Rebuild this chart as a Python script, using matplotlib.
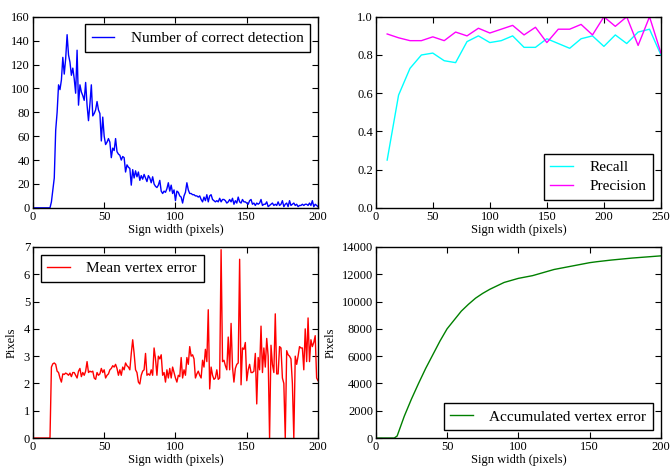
import numpy as np
import matplotlib
matplotlib.use('Agg')
import matplotlib.pyplot as plt

plt.rcParams['font.family'] = 'serif'
plt.rcParams['font.serif'] = ['Liberation Serif', 'DejaVu Serif']
plt.rcParams['xtick.direction'] = 'in'
plt.rcParams['ytick.direction'] = 'in'
plt.rcParams['xtick.top'] = True
plt.rcParams['ytick.right'] = True
plt.rcParams['xtick.major.size'] = 4
plt.rcParams['ytick.major.size'] = 4
plt.rcParams['xtick.labelsize'] = 9
plt.rcParams['ytick.labelsize'] = 9
plt.rcParams['axes.labelsize'] = 9
plt.rcParams['axes.linewidth'] = 1.0

# sign width 0..200
width = list(range(201))

correct_detection = [0] * 13 + [
    5, 15, 25, 65, 80, 103, 99, 107, 126, 112, 125, 145, 128, 122, 111, 117, 108, 96,
    132, 86, 103, 97, 94, 90, 105, 86, 73, 87, 103, 77, 79, 82, 89, 82, 79, 56, 76, 60,
    53, 55, 58, 55, 42, 50, 48, 58, 47, 45, 44, 40, 43, 42, 30, 36, 34, 33, 19, 32,
    25, 31, 26, 30, 23, 27, 24, 28, 25, 22, 27, 25, 21, 26, 20, 18, 17, 19, 23, 14,
    12, 14, 13, 16, 21, 14, 19, 12, 15, 6, 14, 13, 10, 9, 4, 10, 13, 21, 15, 12,
    12, 11, 11, 10, 10, 9, 10, 7, 5, 9, 6, 11, 5, 10, 11, 7, 6, 5, 6, 5,
    8, 5, 7, 7, 6, 4, 5, 7, 5, 8, 3, 6, 4, 9, 5, 4, 7, 5, 5, 4,
    3, 6, 7, 3, 4, 2, 4, 3, 4, 7, 2, 3, 3, 5, 1, 2, 3, 4, 2, 3,
    2, 5, 2, 3, 6, 1, 3, 4, 1, 6, 2, 3, 4, 2, 3, 1, 2, 2, 3, 2,
    3, 3, 2, 4, 2, 6, 1, 3, 2, 1]

mean_vertex_error = [0] * 13 + [
    2.6, 2.72, 2.75, 2.7, 2.45, 2.4, 2.2, 2.05, 2.35, 2.33, 2.38, 2.35, 2.3, 2.38, 2.25,
    2.4, 2.4, 2.3, 2.2, 2.45, 2.55, 2.25, 2.4, 2.3, 2.45, 2.8, 2.4, 2.45, 2.42, 2.45,
    2.2, 2.15, 2.4, 2.3, 2.35, 2.55, 2.4, 2.5, 2.2, 2.3, 2.35, 2.5, 2.55, 2.65, 2.6,
    2.7, 2.55, 2.3, 2.5, 2.3, 2.6, 2.5, 2.75, 2.65, 2.6, 2.5, 3.1, 3.6, 3.1, 2.5,
    2.4, 2.05, 1.98, 2.3, 2.45, 2.5, 3.1, 2.3, 2.35, 2.3, 2.5, 2.3, 3.3, 2.9, 2.3,
    3.0, 2.9, 3.05, 2.3, 2.4, 2.05, 2.5, 2.2, 2.55, 2.2, 2.6, 2.4, 2.2, 2.05, 2.3,
    2.25, 2.95, 2.2, 2.5, 2.3, 2.95, 2.7, 3.35, 3.0, 3.05, 2.9, 2.2, 2.35, 2.45, 2.3,
    2.2, 2.85, 2.6, 3.25, 2.8, 4.7, 1.8, 2.6, 2.3, 2.15, 2.2, 2.5, 2.15, 2.2, 6.9,
    2.8, 2.85, 2.65, 2.5, 3.7, 2.5, 4.2, 2.6, 2.05, 2.55, 2.7, 2.75, 6.55, 1.95, 3.3,
    3.25, 3.5, 2.1, 2.5, 2.7, 2.4, 2.4, 2.45, 3.1, 1.25, 2.95, 2.5, 4.1, 2.4, 3.3,
    2.6, 3.65, 3.0, 0.0, 3.4, 2.7, 2.4, 4.55, 2.35, 2.35, 3.35, 3.3, 2.2, 2.0, 0.0,
    3.2, 3.05, 3.0, 2.9, 2.0, 0.0, 3.0, 2.7, 3.0, 3.35, 3.3, 3.3, 2.5, 4.0, 2.8,
    4.4, 2.8, 3.6, 3.35, 3.5, 3.75, 2.2, 2.1]

# recall / precision per 10 px bin
bin_width = [10, 20, 30, 40, 50, 60, 70, 80, 90, 100, 110, 120, 130, 140, 150, 160,
             170, 180, 190, 200, 210, 220, 230, 240, 250]
recall = [0.25, 0.59, 0.73, 0.80, 0.81, 0.77, 0.76, 0.87, 0.90, 0.865, 0.875, 0.90,
          0.84, 0.84, 0.885, 0.86, 0.835, 0.885, 0.90, 0.845, 0.905, 0.86, 0.92, 0.935, 0.80]
precision = [0.91, 0.89, 0.875, 0.875, 0.895, 0.875, 0.92, 0.90, 0.94, 0.915, 0.935, 0.955,
             0.905, 0.945, 0.865, 0.935, 0.935, 0.96, 0.905, 1.0, 0.95, 1.0, 0.85, 1.0, 0.81]

# accumulated error read every 5 px
acc_width = [0, 5, 10, 13, 15, 20, 25, 30, 35, 40, 45, 50, 55, 60, 65, 70, 75, 80, 85, 90,
             95, 100, 105, 110, 115, 120, 125, 130, 135, 140, 145, 150, 155, 160, 165,
             170, 175, 180, 185, 190, 195, 200]
acc_error = [0, 0, 0, 0, 150, 1600, 2850, 4000, 5100, 6100, 7100, 8000, 8650, 9300, 9800,
             10250, 10600, 10900, 11150, 11400, 11550, 11700, 11800, 11900, 12050, 12200,
             12350, 12450, 12550, 12650, 12750, 12850, 12920, 12980, 13040, 13090, 13140,
             13190, 13230, 13270, 13310, 13350]

fig = plt.figure(figsize=(6.71, 4.66), dpi=100)
fig.patch.set_facecolor('white')

ax1 = fig.add_axes([0.049, 0.554, 0.425, 0.41])
ax2 = fig.add_axes([0.560, 0.554, 0.425, 0.41])
ax3 = fig.add_axes([0.049, 0.060, 0.425, 0.41])
ax4 = fig.add_axes([0.560, 0.060, 0.425, 0.41])

leg_kw = dict(fontsize=11, fancybox=False, edgecolor='black', framealpha=1,
              handlelength=1.45, handletextpad=1.1, borderpad=0.45, labelspacing=0.35)


def style_legend(leg):
    leg.get_frame().set_linewidth(1.0)


ax1.plot(width, correct_detection, color='blue', lw=1, label='Number of correct detection')
ax1.set_xlim(0, 200)
ax1.set_ylim(0, 160)
ax1.set_xticks(range(0, 201, 50))
ax1.set_yticks(range(0, 161, 20))
ax1.set_xlabel('Sign width (pixels)', labelpad=1)
style_legend(ax1.legend(loc='upper right', **leg_kw))

ax2.plot(bin_width, recall, color='cyan', lw=1, label='Recall')
ax2.plot(bin_width, precision, color='magenta', lw=1, label='Precision')
ax2.set_xlim(0, 250)
ax2.set_ylim(0, 1.0)
ax2.set_xticks(range(0, 251, 50))
ax2.set_yticks(np.arange(0, 1.01, 0.2))
ax2.set_xlabel('Sign width (pixels)', labelpad=1)
style_legend(ax2.legend(loc='lower right', **leg_kw))

ax3.plot(width, mean_vertex_error, color='red', lw=1, label='Mean vertex error')
ax3.set_xlim(0, 200)
ax3.set_ylim(0, 7)
ax3.set_xticks(range(0, 201, 50))
ax3.set_yticks(range(0, 8))
ax3.set_xlabel('Sign width (pixels)', labelpad=1)
ax3.set_ylabel('Pixels')
style_legend(ax3.legend(loc='upper left', **leg_kw))

ax4.plot(acc_width, acc_error, color='green', lw=1, label='Accumulated vertex error')
ax4.set_xlim(0, 200)
ax4.set_ylim(0, 14000)
ax4.set_xticks(range(0, 201, 50))
ax4.set_yticks(range(0, 14001, 2000))
ax4.set_xlabel('Sign width (pixels)', labelpad=1)
ax4.set_ylabel('Pixels')
style_legend(ax4.legend(loc='lower right', **leg_kw))

for ax in (ax1, ax2, ax3, ax4):
    ax.tick_params(pad=2)

fig.savefig('out.png', dpi=100, facecolor='white')
